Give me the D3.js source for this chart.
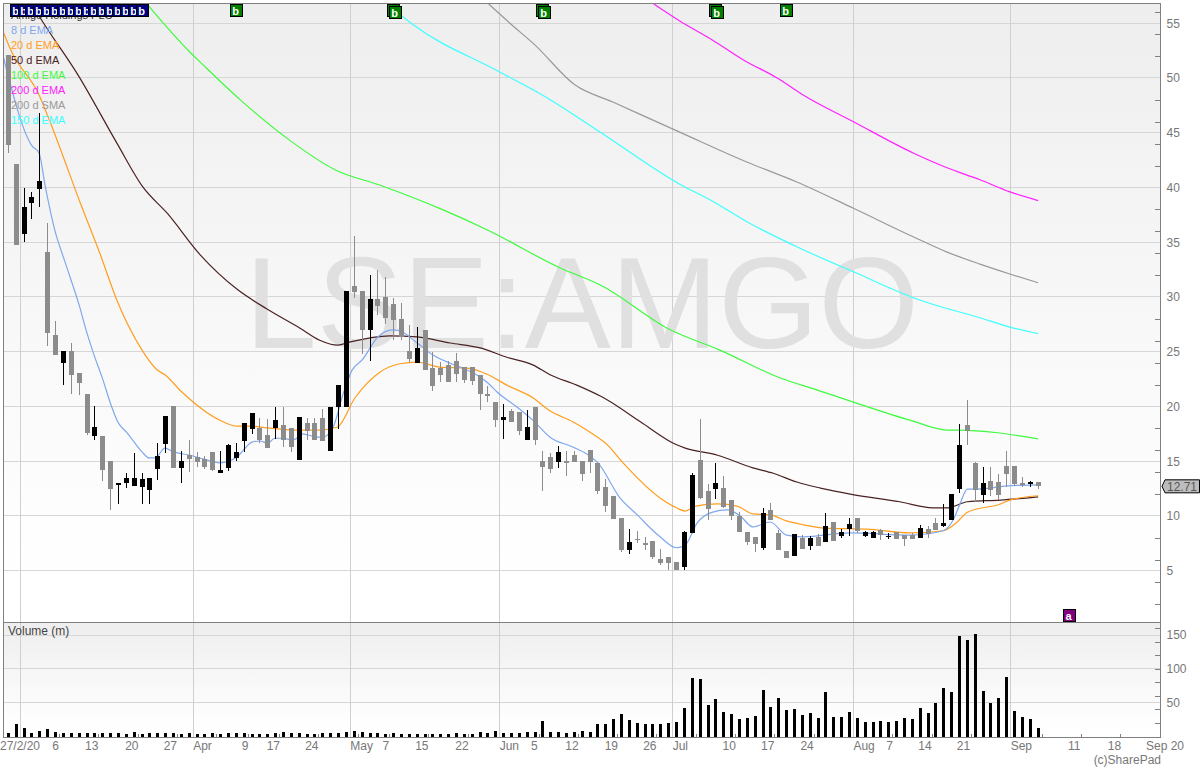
<!DOCTYPE html>
<html><head><meta charset="utf-8">
<script src="https://cdnjs.cloudflare.com/ajax/libs/d3/7.8.5/d3.min.js"></script>
<style>html,body{margin:0;padding:0;background:#fff;overflow:hidden}svg{display:block}text{font-family:"Liberation Sans",Arial,sans-serif}</style>
</head><body><svg id="c" width="1200" height="768"></svg>
<script>
const opens=[52.1,42.15,35.75,38.6,39.85,34.1,26.5,23.95,25.05,23.05,21.15,17.3,17.3,15.0,12.9,13.0,12.75,12.65,12.35,14.3,16.55,20.05,14.4,15.55,15.4,15.2,15.85,13.9,14.4,15.3,16.85,17.95,18.05,17.4,18.05,18.3,18.05,15.1,18.5,18.5,18.95,15.9,19.95,19.95,31.0,30.55,27.0,29.8,30.0,29.35,28.0,25.05,23.95,27.0,23.5,23.5,23.8,24.15,23.6,23.6,22.85,21.15,20.4,18.75,19.6,19.5,16.95,19.95,15.0,15.4,14.95,15.0,15.55,15.0,16.05,14.85,12.65,11.8,9.8,6.9,7.9,7.55,7.7,6.05,6.25,5.8,5.35,8.45,15.1,12.3,12.45,12.55,11.45,10.0,8.55,8.1,7.1,10.55,8.45,6.8,6.35,8.0,7.25,8.1,7.6,9.45,8.2,8.8,9.8,8.2,8.0,8.7,8.1,8.55,8.25,8.25,8.0,8.8,9.35,9.1,9.65,12.45,18.3,14.85,11.9,13.2,13.1,14.55,14.55,13.0,12.9,13.1];
const highs=[52.1,42.15,39.95,39.6,46.8,36.75,27.8,25.05,25.8,23.05,21.15,20.05,17.3,15.0,13.0,13.9,15.75,13.9,13.45,16.65,19.15,20.05,15.95,16.95,15.85,15.5,15.85,15.95,16.55,16.65,18.5,19.4,18.95,18.85,19.95,19.95,18.05,19.05,18.95,18.95,19.75,19.95,21.95,30.55,35.55,30.55,32.0,32.45,31.8,29.9,29.45,27.45,27.25,27.0,24.95,24.05,24.15,24.9,23.6,23.6,22.85,21.85,20.4,20.2,19.75,19.5,19.7,19.95,15.95,15.75,16.4,15.95,15.95,15.0,16.05,14.85,13.4,11.8,9.8,8.8,8.6,8.1,7.7,7.0,6.25,5.8,8.6,13.9,18.85,12.9,14.85,13.65,11.45,10.35,8.55,8.1,10.7,11.2,8.7,6.8,8.35,8.25,8.15,8.35,10.25,9.45,8.8,9.8,9.8,8.6,8.6,8.8,8.45,8.55,8.25,8.45,9.2,9.1,9.8,11.1,12.0,18.4,20.6,14.95,14.45,14.45,13.85,15.95,14.55,13.55,13.2,13.1];
const lows=[43.15,34.75,35.0,37.1,38.2,25.5,24.7,21.95,21.15,21.05,17.4,16.95,13.2,10.55,11.1,12.55,12.75,11.1,11.1,13.3,15.75,14.4,13.0,14.0,14.5,14.3,14.1,13.9,14.1,15.0,15.85,17.5,16.65,16.2,17.05,16.3,15.85,15.1,16.95,16.95,16.85,15.9,17.95,19.95,29.9,24.8,24.15,28.35,27.55,26.05,26.05,24.05,23.95,23.35,21.4,22.2,22.2,22.2,22.15,21.95,19.7,20.4,18.15,17.05,18.6,17.4,16.95,16.5,12.3,13.95,14.4,13.65,14.95,13.2,13.95,12.0,10.35,9.7,6.7,6.5,7.55,6.9,6.05,5.5,5.05,5.05,5.05,8.45,11.55,9.65,11.55,10.7,9.65,8.55,7.35,6.7,6.9,9.65,6.9,6.15,6.35,7.0,6.9,7.25,7.6,7.7,8.0,8.2,8.45,8.1,8.0,7.8,7.9,7.9,7.25,7.9,8.0,8.0,8.7,9.0,9.65,12.1,16.5,11.3,11.2,11.85,11.45,12.65,12.75,12.65,12.65,12.45];
const closes=[43.9,34.75,38.2,39.15,40.6,26.7,24.7,25.05,22.85,22.15,17.6,18.15,14.2,12.45,13.0,13.45,13.45,13.4,13.45,15.45,19.15,14.4,15.0,15.2,14.95,14.5,14.2,14.2,16.5,15.85,18.5,19.4,16.95,16.2,18.75,16.95,16.3,19.05,17.75,16.95,16.85,19.95,21.95,30.55,30.45,27.0,29.8,29.15,28.1,27.9,26.35,24.35,25.35,23.35,21.85,22.85,22.2,22.95,22.4,22.3,21.15,20.95,18.75,19.05,18.6,17.75,18.15,16.95,14.45,14.3,15.85,14.85,14.95,13.85,14.95,12.3,10.9,9.7,6.9,7.6,7.8,7.35,6.25,5.7,5.7,5.05,8.55,13.75,11.65,10.65,13.0,10.8,10.0,8.55,7.6,7.45,10.25,9.65,6.9,6.15,8.35,7.0,8.0,7.25,9.1,7.7,8.55,9.3,8.6,8.55,8.55,8.25,8.2,7.9,7.9,7.9,8.9,8.35,8.7,9.35,12.0,16.5,17.75,12.4,13.0,12.4,11.9,13.85,12.9,12.85,13.1,12.71];
const volumes=[4.5,18,12,4.5,7,10,6,4.5,4.5,4.5,4.5,5,4.5,4.5,4.5,3,6,3,4.5,4.5,4.5,4.5,3,4.5,3,3,4.5,3,4.5,4.5,4.5,3,3,3,4.5,6,4.5,4.5,3,3,4.5,4.5,4.5,6,7,6,4.5,4.5,3,4.5,3,3,3,3,3,3,3,4.5,3,3,6,4.5,7,4.5,4.5,4.5,6,6,22,6,6,4.5,6,7,6,18,18,25,33,24,19,18,18,18,19,21,42,86,85,46,55,36,33,25,27,30,68,43,56,39,40,31,34,27,65,28,28,36,27,21,21,22,21,22,27,25,42,34,49,71,65,148,142,152,67,49,56,88,37,28,25,12];
const ema8=[[-0.6,51.8],[3,43.8],[3.9,43.15],[4.7,40.05],[5.9,36.1],[7.2,33.2],[9,29.25],[10,26.7],[10.8,24.9],[11.9,22.7],[13.1,20.05],[13.9,18.6],[15.1,17.6],[17,15.85],[17.9,15.3],[18.7,15.3],[19.9,16.2],[21,15.85],[23.1,15.55],[24.8,15.2],[26.9,14.85],[29.1,15.4],[31,16.75],[32,16.85],[33,16.65],[33.9,17.1],[34.9,17.1],[36.1,16.95],[37.1,17.3],[37.4,17.5],[39.3,17.2],[40,17.2],[41.3,18.1],[42.6,21.2],[43.7,23.3],[45,24.25],[47,26.35],[48.9,27],[49.8,26.9],[52,25.8],[54,24.7],[56.2,23.95],[57.8,23.5],[60,22.7],[61,22.15],[62.2,21.3],[64.7,19.95],[66.7,18.75],[68.9,17.2],[71.8,16.3],[73.6,15.65],[75,14.85],[77.8,11.65],[80,10.1],[82.9,8.1],[85,7.1],[86.1,7.35],[87.6,9.35],[89.6,10.35],[91.4,10.55],[93.1,10],[94.7,9],[96.9,9.45],[99,8.25],[101.1,8.1],[107.1,8.45],[114.7,8.25],[118.9,8.65],[120.2,9.65],[121,11],[122,12.45],[123.3,12.45],[127.1,12.75],[131,12.85]];
const ema20=[[-0.6,54.1],[0.3,52.55],[3.9,48.45],[5.7,45.25],[9,38.85],[11.7,33.85],[13.8,29.7],[17,25.15],[18.9,23.35],[19.9,22.9],[22.1,21.3],[26.9,18.75],[29.1,18.2],[30.7,18.2],[32.9,18.05],[36.2,17.85],[39.3,17.85],[41.8,18.1],[44.1,20.8],[47.3,23.15],[49.8,23.9],[52,24.05],[54.9,23.6],[58.3,23.5],[60.9,22.95],[63.4,21.95],[66.7,20.8],[68.9,19.6],[71.8,18.6],[74,17.65],[76.2,16.5],[78.2,14.85],[82.9,11.65],[85,10.75],[86.1,10.45],[87.4,10.9],[90.2,11.1],[92.7,10.9],[94.7,10.2],[96.9,10.1],[99,9.55],[101.1,9.2],[103.9,8.9],[109.2,8.8],[114.7,8.45],[118.9,8.65],[120.7,9.45],[122,10.35],[126.2,11.1],[127.4,11.45],[131,11.85]];
const ema50=[[2.7,57.1],[4,55.55],[9,50.1],[13.8,44.05],[17.1,40.05],[20.2,37.65],[24.4,33.85],[29.1,30.7],[32.9,28.9],[37.1,27.15],[39.6,26.05],[41.9,25.6],[43.5,25.9],[48.5,26.45],[52,26.35],[56.2,25.8],[60,25.35],[63.4,24.5],[66.7,23.8],[68.9,22.9],[72.3,21.95],[75.3,20.95],[76.2,20.6],[80.4,18.6],[85,16.5],[86.1,16.2],[90.2,15.55],[94.7,14.4],[97.3,13.9],[100.3,13.1],[103.3,12.55],[107.1,12],[113.4,11.3],[117.6,10.75],[119.5,10.75],[122,11.3],[126.2,11.45],[131,11.75]];
const ema100=[[17.8,56.6],[23.1,52.35],[24.4,51.45],[29.5,48],[35.8,44.3],[41.6,41.6],[47.3,40.2],[55.3,37.95],[61,36.1],[70.2,32.65],[75.3,31.1],[84.2,27],[90.5,25.15],[98.2,22.6],[102.9,21.5],[107.5,20.4],[114.7,18.75],[119.4,17.85],[120.7,17.85],[131,17.05]];
const ema200=[[82.1,56.75],[85.4,55.2],[89.6,53.45],[93.5,51.65],[97.8,50],[101.1,48.45],[107.5,46],[115.1,43.15],[119.4,41.8],[123.6,40.7],[127.4,39.6],[131,38.8]];
const sma200=[[61.1,56.75],[63.8,55],[67,53],[72.1,49.35],[76.9,47.8],[85.4,45.05],[94,42.3],[100.3,40.5],[107.5,38.1],[115.1,35.5],[119.4,34.1],[123.6,33],[127.4,32.1],[131,31.3]];
const ema150=[[47.9,56.95],[51.5,54.85],[62.5,50.55],[68.5,48.2],[75.3,45.05],[85.4,40.3],[89.3,38.85],[94,36.85],[100.7,34.45],[107.5,32.3],[116,29.7],[123.6,28.1],[127.4,27.25],[131,26.65]];
const legendNames=["8 d EMA","20 d EMA","50 d EMA","100 d EMA","200 d EMA","200 d SMA","150 d EMA"];
const legendColors=["#7fa8ee","#ff9d1e","#4a2222","#3dfb3d","#ff22ff","#999999","#3cffff"];
const monthIdx=[2,24,44,63,85,108,128];
const monthLabels=["","Apr","May","Jun","Jul","Aug","Sep"];
const weekIdx=[7,12,17,22,27,31,35,40,45,49,54,59,68,73,78,83,88,93,98,103,113,118,123,132,137,142];
const dayLabels=["6","13","20","27","9","17","24","7","15","22","5","12","19","26","10","17","24","7","14","21","11","18"];
const dayLabelIdx=[6,10.6,15.7,20.6,30.1,33.7,38.6,48,52.6,57.7,66.9,71.7,76.7,81.6,91.7,96.6,101.6,112.1,116.6,121.5,135.6,140.7];
const priceLabels=[5,10,15,20,25,30,35,40,45,50,55];
const priceMinor=[2,4,6,8,12,14,16,18,22,24,26,28,32,34,36,38,42,44,46,48,52,54,56];
const volLabels=[50,100,150];
const volMinor=[20,40,60,80,100,120,140,160];
const buyBlue=[1,2,3,4,5,6,7,8,9,10,11,12,13,14,15,16,17];
const buyGreen=[29,49,68,90,99];
const buyDouble=[49,68,90];
const lastPrice=12.71;

const L=3.5,R=1160.5,T=3.5,M=622.5,B=737.5;
const x=d3.scaleLinear().domain([-0.65,146.5]).range([3.3,1160]);
const y=d3.scaleLinear().domain([0.32,56.8]).range([622,3.5]);
const yv=d3.scaleLinear().domain([0,150]).range([736,635]);
const snap=i=>Math.floor(x(i))+0.5;
const svg=d3.select("#c");
const defs=svg.append("defs");
const grad=(id)=>{const g=defs.append("linearGradient").attr("id",id).attr("x1",0).attr("x2",0).attr("y1",0).attr("y2",1);
 g.append("stop").attr("offset","0").attr("stop-color","#eeeeee");g.append("stop").attr("offset","0.85").attr("stop-color","#fefefe");g.append("stop").attr("offset","1").attr("stop-color","#ffffff");};
grad("gp");grad("gv");
defs.append("clipPath").attr("id","cp").append("rect").attr("x",L).attr("y",T).attr("width",R-L).attr("height",M-T);
svg.append("rect").attr("x",L).attr("y",T).attr("width",R-L).attr("height",M-T).attr("fill","url(#gp)");
svg.append("rect").attr("x",L).attr("y",M).attr("width",R-L).attr("height",B-M).attr("fill","url(#gv)");

const grid=svg.append("g").attr("shape-rendering","crispEdges").attr("stroke-width",1);
grid.selectAll(".h").data(priceLabels).join("line").attr("x1",L).attr("x2",R).attr("y1",d=>y(d)).attr("y2",d=>y(d)).attr("stroke","#d6d6d6");
grid.selectAll(".v").data(volLabels).join("line").attr("x1",L).attr("x2",R).attr("y1",d=>yv(d)).attr("y2",d=>yv(d)).attr("stroke","#d6d6d6");
grid.selectAll(".m").data(monthIdx).join("line").attr("x1",d=>x(d-0.5)).attr("x2",d=>x(d-0.5)).attr("y1",T).attr("y2",B).attr("stroke","#cfcfcf");

svg.append("text").attr("x",(L+R)/2).attr("y",348).attr("text-anchor","middle").attr("font-size",129).attr("fill","#e0e0e0").text("LSE:AMGO");

const plot=svg.append("g").attr("clip-path","url(#cp)");
const line=d3.line().x(d=>x(d[0])).y(d=>y(d[1])).curve(d3.curveMonotoneX);
[[ema150,6],[sma200,5],[ema200,4],[ema100,3],[ema50,2],[ema20,1],[ema8,0]].forEach(([s,c])=>{
 plot.append("path").attr("d",line(s)).attr("fill","none").attr("stroke",legendColors[c]).attr("stroke-width",1.2);});

const idx=d3.range(opens.length);
const col=i=>closes[i]>opens[i]?"#000000":"#8c8c8c";
const cg=plot.append("g").attr("shape-rendering","crispEdges");
cg.selectAll(".w").data(idx).join("line").attr("x1",snap).attr("x2",snap).attr("y1",i=>y(highs[i])).attr("y2",i=>y(lows[i])).attr("stroke",col);
cg.selectAll(".b").data(idx).join("rect").attr("x",i=>snap(i)-2.5).attr("width",5)
 .attr("y",i=>y(Math.max(opens[i],closes[i]))).attr("height",i=>Math.max(1.5,Math.abs(y(opens[i])-y(closes[i])))).attr("fill",col);

svg.append("g").attr("shape-rendering","crispEdges").selectAll("rect").data(idx).join("rect")
 .attr("x",i=>snap(i)-1.5).attr("width",3).attr("y",i=>yv(volumes[i])).attr("height",i=>B-yv(volumes[i])).attr("fill","#000");

const fr=svg.append("g").attr("shape-rendering","crispEdges").attr("stroke","#808080").attr("fill","none");
fr.append("path").attr("d",d3.line()([[L,B],[L,T],[R,T],[R,B],[L,B]]));
fr.append("line").attr("x1",L).attr("x2",R).attr("y1",M).attr("y2",M);

const axisTxt=g=>{g.select(".domain").remove();g.selectAll("text").attr("fill","#777").attr("font-size",12).attr("font-family",'"Liberation Sans",Arial,sans-serif');};
svg.append("g").attr("transform",`translate(${R-6},0)`).attr("shape-rendering","crispEdges")
 .call(d3.axisRight(y).tickValues(priceMinor).tickSize(6).tickFormat("")).call(g=>{g.select(".domain").remove();g.selectAll("line").attr("stroke","#808080");});
svg.append("g").attr("transform",`translate(${R-6},0)`).attr("shape-rendering","crispEdges")
 .call(d3.axisRight(yv).tickValues(volMinor).tickSize(6).tickFormat("")).call(g=>{g.select(".domain").remove();g.selectAll("line").attr("stroke","#808080");});
svg.append("g").attr("transform",`translate(${R},0)`).call(d3.axisRight(y).tickValues(priceLabels).tickSize(0).tickPadding(6)).call(axisTxt).call(g=>g.selectAll("line").remove());
svg.append("g").attr("transform",`translate(${R},0)`).call(d3.axisRight(yv).tickValues(volLabels).tickSize(0).tickPadding(6)).call(axisTxt).call(g=>g.selectAll("line").remove());

svg.append("g").attr("shape-rendering","crispEdges").selectAll("line").data(weekIdx).join("line")
 .attr("x1",d=>x(d-0.5)).attr("x2",d=>x(d-0.5)).attr("y1",B-4).attr("y2",B).attr("stroke","#808080");

const xl=svg.append("g").attr("fill","#777").attr("font-size",12);
xl.selectAll(".d").data(dayLabels).join("text").attr("x",(d,i)=>x(dayLabelIdx[i])).attr("y",750).attr("text-anchor","middle").text(d=>d);
xl.selectAll(".mo").data(monthIdx.slice(1)).join("text").attr("x",d=>x(d-0.5)).attr("y",750).text((d,i)=>monthLabels[i+1]);
xl.append("text").attr("x",0).attr("y",750).text("27/2/20");
xl.append("text").attr("x",1184).attr("y",750).attr("text-anchor","end").text("Sep 20");
xl.append("text").attr("x",1161).attr("y",764).attr("text-anchor","end").text("(c)SharePad");

svg.append("text").attr("x",8).attr("y",635).attr("font-size",12).attr("fill","#444").text("Volume (m)");

svg.append("text").attr("x",11).attr("y",19).attr("font-size",11).attr("fill","#333").text("Amigo Holdings PLC");
svg.append("g").selectAll("text").data(legendNames).join("text").attr("x",11).attr("y",(d,i)=>34+i*15).attr("font-size",11).attr("fill",(d,i)=>legendColors[i]).text(d=>d);

function badge(cx,top,fill,label){
 const g=svg.append("g");
 g.append("rect").attr("x",cx-6).attr("y",top+0.5).attr("width",12).attr("height",12).attr("fill",fill).attr("stroke","#000").attr("shape-rendering","crispEdges");
 if(label) g.append("text").attr("x",cx-1).attr("y",top+10.5).attr("text-anchor","middle").attr("font-size",11).attr("font-weight","bold").attr("fill","#fff").text(label);
}
buyGreen.forEach(i=>{ if(buyDouble.includes(i)){badge(snap(i),4,"#008000","");badge(snap(i)+2,6,"#008000","b");} else badge(snap(i),4,"#008000","b"); });
badge(snap(7),4,"#008000","");
badge(snap(2),4,"#000000","");
buyBlue.forEach(i=>badge(snap(i),4,"#000080","b"));
badge(snap(135),609,"#800080","a");

const ly=y(lastPrice);
svg.append("path").attr("d",d3.line()([[1162,ly],[1165,ly-6.5],[1199.5,ly-6.5],[1199.5,ly+6.5],[1165,ly+6.5],[1162,ly]])).attr("fill","#bdbdbd").attr("stroke","#000");
svg.append("text").attr("x",1167).attr("y",ly+4.5).attr("font-size",12).attr("fill","#555").text(lastPrice.toFixed(2));
</script></body></html>
